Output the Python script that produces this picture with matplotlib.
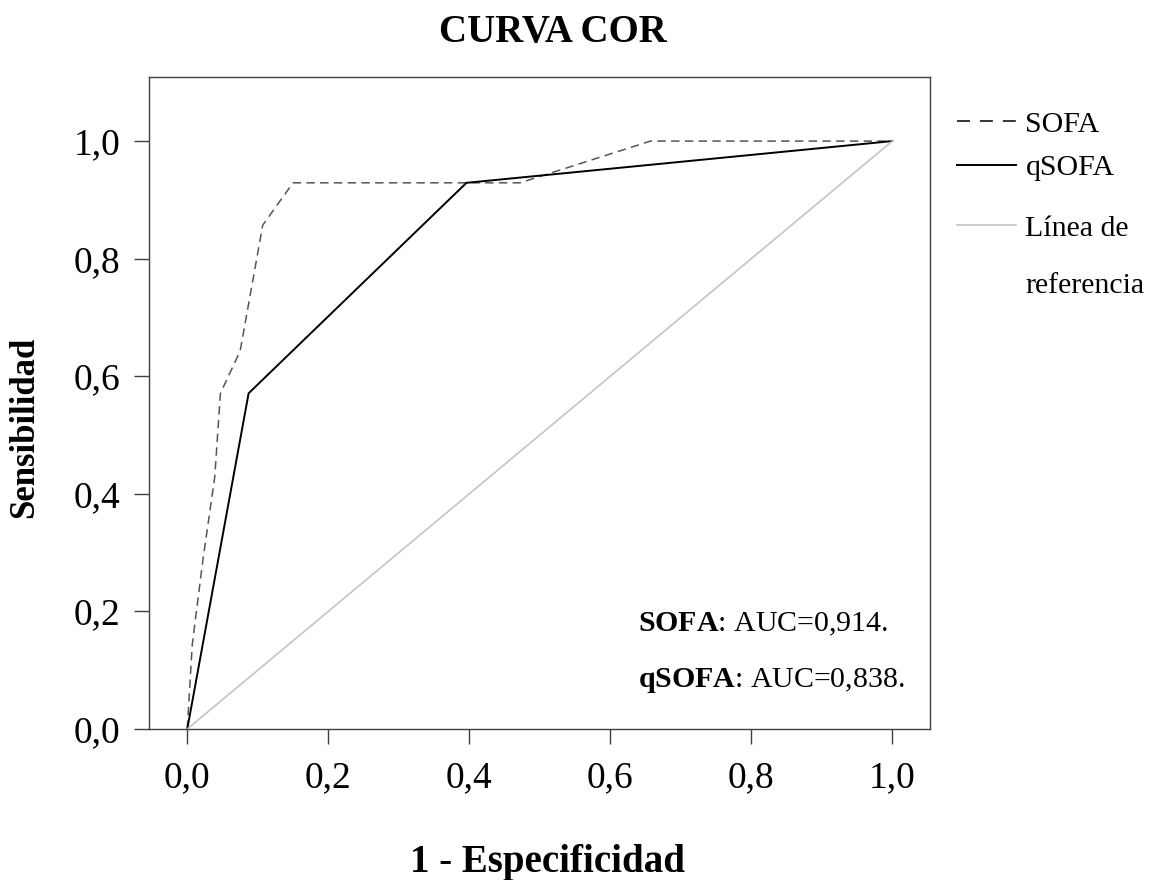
import matplotlib
matplotlib.use("Agg")
import matplotlib.pyplot as plt
from matplotlib.lines import Line2D
from matplotlib.ticker import FuncFormatter

# ROC points
sofa_fpr = [0.0, 0.007, 0.022, 0.039, 0.047, 0.075, 0.107, 0.150, 0.472, 0.657, 1.0]
sofa_tpr = [0.0, 0.143, 0.286, 0.429, 0.571, 0.643, 0.857, 0.929, 0.929, 1.0, 1.0]
qsofa_fpr = [0.0, 0.087, 0.396, 1.0]
qsofa_tpr = [0.0, 0.571, 0.929, 1.0]
ref_line = [0.0, 1.0]
ticks = [0.0, 0.2, 0.4, 0.6, 0.8, 1.0]
auc_texts = [r"$\mathbf{SOFA}$: AUC=0,914.", r"$\mathbf{qSOFA}$: AUC=0,838."]
legend_labels = ["SOFA", "qSOFA", "Línea de", "referencia"]

plt.rcParams["font.family"] = ["Liberation Serif", "DejaVu Serif"]
plt.rcParams["mathtext.fontset"] = "custom"
plt.rcParams["mathtext.rm"] = "Liberation Serif"
plt.rcParams["mathtext.bf"] = "Liberation Serif:bold"

W, H = 1161, 880
fig = plt.figure(figsize=(W / 100, H / 100), dpi=100)
ax = fig.add_axes([149 / W, 1 - 729 / H, (930 - 149) / W, (729 - 77) / H])

frame = "#404040"
l_sofa, = ax.plot(sofa_fpr, sofa_tpr, color="#555555", lw=1.1, linestyle=(0, (5.5, 3.5)))
l_qsofa, = ax.plot(qsofa_fpr, qsofa_tpr, color="black", lw=1.4)
l_ref, = ax.plot(ref_line, ref_line, color="#c4c4c4", lw=1.2)

ax.set_xlim(-0.0543, 1.0535)
ax.set_ylim(0, 1.109)
ax.set_xticks(ticks)
ax.set_yticks(ticks)
fmt = FuncFormatter(lambda v, p: f"{v:.1f}".replace(".", ","))
ax.xaxis.set_major_formatter(fmt)
ax.yaxis.set_major_formatter(fmt)
ax.tick_params(direction="out", length=10.5, width=1, color=frame, labelsize=27)
ax.tick_params(axis="x", pad=12)
ax.tick_params(axis="y", pad=10)
for s in ax.spines.values():
    s.set_color(frame)
    s.set_linewidth(1)

for i, t in enumerate(auc_texts):
    ax.text(0.626, [0.149, 0.0644][i], t, transform=ax.transAxes, fontsize=21.5,
            va="baseline", ha="left")

fig.text(553 / W, 1 - 42 / H, "CURVA COR", fontsize=28, fontweight="bold",
         ha="center", va="baseline")
fig.text(547 / W, 1 - 872 / H, "1 - Especificidad", fontsize=28, fontweight="bold",
         ha="center", va="baseline")
fig.text(25 / W, 1 - 427 / H, "Sensibilidad", fontsize=25, fontweight="bold",
         rotation=90, ha="center", va="center")

blank = Line2D([], [], color="none")
leg_sofa = Line2D([], [], color="black", lw=1.1, linestyle=(0, (8.5, 6.5)))
leg_kw = dict(loc="upper left", frameon=False, fontsize=21.5, handlelength=1.96,
              handletextpad=0.33, borderpad=0, borderaxespad=0)
leg1 = fig.legend([leg_sofa, l_qsofa], legend_labels[:2],
                  bbox_to_anchor=(957 / W, 1 - 111 / H), labelspacing=0.55, **leg_kw)
fig.legend([l_ref, blank], legend_labels[2:],
           bbox_to_anchor=(957 / W, 1 - 215 / H), labelspacing=1.02, **leg_kw)

fig.savefig("out.png", dpi=100)
